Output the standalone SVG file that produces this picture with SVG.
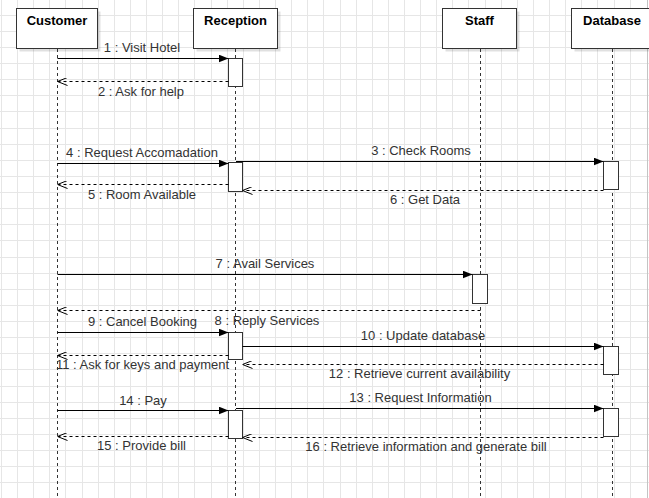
<svg xmlns="http://www.w3.org/2000/svg" width="649" height="498" viewBox="0 0 649 498">
<style>
.grid{stroke:#e6e6e6;stroke-width:1;fill:none}
.box{fill:#ffffff;stroke:#333333;stroke-width:1}
.shadow{fill:#000000;opacity:0.12}
.title{font-family:"Liberation Sans",Arial,sans-serif;font-size:13px;font-weight:bold;fill:#000000;text-anchor:middle}
.life{stroke:#333333;stroke-width:1;stroke-dasharray:3 3;fill:none}
.bar{fill:#ffffff;stroke:#333333;stroke-width:1}
.msg{stroke:#000000;stroke-width:1;fill:none}
.ret{stroke:#000000;stroke-width:1;fill:none;stroke-dasharray:3 3}
.lbl{font-family:"Liberation Sans",Arial,sans-serif;font-size:13px;fill:#333333;text-anchor:middle}
</style>
<defs>
<marker id="block" viewBox="0 0 10 8" refX="10" refY="4" markerWidth="10" markerHeight="8" markerUnits="userSpaceOnUse" orient="auto">
<path d="M0,0 L10,4 L0,8 Z" fill="#000000"/>
</marker>
<marker id="open" viewBox="0 0 10 8" refX="10" refY="4" markerWidth="10" markerHeight="8" markerUnits="userSpaceOnUse" orient="auto">
<path d="M0,0 L10,4 L0,8" fill="none" stroke="#000000" stroke-width="1"/>
</marker>
</defs>
<rect x="0" y="0" width="649" height="498" fill="#ffffff"/>
<path class="grid" d="M1.5,0V498M17.5,0V498M33.5,0V498M49.5,0V498M65.5,0V498M82.5,0V498M98.5,0V498M114.5,0V498M130.5,0V498M146.5,0V498M162.5,0V498M178.5,0V498M194.5,0V498M211.5,0V498M227.5,0V498M243.5,0V498M259.5,0V498M275.5,0V498M291.5,0V498M307.5,0V498M323.5,0V498M340.5,0V498M356.5,0V498M372.5,0V498M388.5,0V498M404.5,0V498M420.5,0V498M436.5,0V498M452.5,0V498M468.5,0V498M485.5,0V498M501.5,0V498M517.5,0V498M533.5,0V498M549.5,0V498M565.5,0V498M581.5,0V498M597.5,0V498M614.5,0V498M630.5,0V498M0,15.5H649M0,31.5H649M0,47.5H649M0,63.5H649M0,79.5H649M0,95.5H649M0,111.5H649M0,128.5H649M0,144.5H649M0,160.5H649M0,176.5H649M0,192.5H649M0,208.5H649M0,224.5H649M0,240.5H649M0,257.5H649M0,273.5H649M0,289.5H649M0,305.5H649M0,321.5H649M0,337.5H649M0,353.5H649M0,369.5H649M0,386.5H649M0,402.5H649M0,418.5H649M0,434.5H649M0,450.5H649M0,466.5H649M0,482.5H649"/>
<line x1="647.5" y1="0" x2="647.5" y2="498" stroke="#c4c4c4" stroke-width="1"/>

<g id="customer">
<rect class="shadow" x="19.5" y="11.5" width="81" height="40"/>
<rect class="box" x="16.5" y="8.5" width="81" height="40"/>
<text class="title" x="57" y="25">Customer</text>
<line class="life" x1="57.5" y1="49" x2="57.5" y2="498"/>
</g>
<g id="reception">
<rect class="shadow" x="196.5" y="11.5" width="84" height="40"/>
<rect class="box" x="193.5" y="8.5" width="84" height="40"/>
<text class="title" x="235.5" y="25">Reception</text>
<line class="life" x1="235.5" y1="49" x2="235.5" y2="498"/>
</g>
<g id="staff">
<rect class="shadow" x="445.5" y="11.5" width="74" height="40"/>
<rect class="box" x="442.5" y="8.5" width="74" height="40"/>
<text class="title" x="479.5" y="25">Staff</text>
<line class="life" x1="480.5" y1="49" x2="480.5" y2="498"/>
</g>
<g id="database">
<rect class="shadow" x="574.5" y="11.5" width="81" height="40"/>
<rect class="box" x="571.5" y="8.5" width="81" height="40"/>
<text class="title" x="612" y="25">Database</text>
<line class="life" x1="612.5" y1="49" x2="612.5" y2="498"/>
</g>

<g id="activations">
<rect class="bar" x="228.5" y="58.5" width="14" height="28"/>
<rect class="bar" x="228.5" y="162.5" width="14" height="29"/>
<rect class="bar" x="603.5" y="161.5" width="15" height="28"/>
<rect class="bar" x="472.5" y="274.5" width="15" height="29"/>
<rect class="bar" x="228.5" y="332.5" width="14" height="27"/>
<rect class="bar" x="603.5" y="346.5" width="15" height="28"/>
<rect class="bar" x="228.5" y="410.5" width="14" height="28"/>
<rect class="bar" x="603.5" y="408.5" width="15" height="28"/>
</g>

<g id="connectors">
<line class="msg" x1="57.5" y1="58.5" x2="228.5" y2="58.5" marker-end="url(#block)"/>
<line class="ret" x1="228.5" y1="81.5" x2="57.5" y2="81.5" marker-end="url(#open)"/>
<line class="msg" x1="57.5" y1="163.5" x2="228.5" y2="163.5" marker-end="url(#block)"/>
<line class="msg" x1="236" y1="161.5" x2="603.5" y2="161.5" marker-end="url(#block)"/>
<line class="ret" x1="228.5" y1="184.5" x2="57.5" y2="184.5" marker-end="url(#open)"/>
<line class="ret" x1="603.5" y1="190.5" x2="242.5" y2="190.5" marker-end="url(#open)"/>
<line class="msg" x1="57.5" y1="274.5" x2="472.5" y2="274.5" marker-end="url(#block)"/>
<line class="ret" x1="480.5" y1="310.5" x2="57.5" y2="310.5" marker-end="url(#open)"/>
<line class="msg" x1="57.5" y1="332.5" x2="228.5" y2="332.5" marker-end="url(#block)"/>
<line class="msg" x1="242.5" y1="346.5" x2="603.5" y2="346.5" marker-end="url(#block)"/>
<line class="ret" x1="228.5" y1="355.5" x2="57.5" y2="355.5" marker-end="url(#open)"/>
<line class="ret" x1="603.5" y1="364.5" x2="242.5" y2="364.5" marker-end="url(#open)"/>
<line class="msg" x1="57.5" y1="410.5" x2="228.5" y2="410.5" marker-end="url(#block)"/>
<line class="msg" x1="236" y1="408.5" x2="603.5" y2="408.5" marker-end="url(#block)"/>
<line class="ret" x1="228.5" y1="436.5" x2="57.5" y2="436.5" marker-end="url(#open)"/>
<line class="ret" x1="603.5" y1="437.5" x2="242.5" y2="437.5" marker-end="url(#open)"/>
</g>

<g id="labels">
<text class="lbl" x="142" y="52">1 : Visit Hotel</text>
<text class="lbl" x="141" y="96">2 : Ask for help</text>
<text class="lbl" x="421" y="155">3 : Check Rooms</text>
<text class="lbl" x="142" y="157">4 : Request Accomadation</text>
<text class="lbl" x="142" y="199">5 : Room Available</text>
<text class="lbl" x="425" y="204">6 : Get Data</text>
<text class="lbl" x="265" y="268">7 : Avail Services</text>
<text class="lbl" x="267" y="325">8 : Reply Services</text>
<text class="lbl" x="142.5" y="326">9 : Cancel Booking</text>
<text class="lbl" x="423" y="340">10 : Update database</text>
<text class="lbl" x="142.5" y="369">11 : Ask for keys and payment</text>
<text class="lbl" x="419.5" y="378">12 : Retrieve current availability</text>
<text class="lbl" x="420.5" y="402">13 : Request Information</text>
<text class="lbl" x="143" y="405">14 : Pay</text>
<text class="lbl" x="141.5" y="450">15 : Provide bill</text>
<text class="lbl" x="426" y="451">16 : Retrieve information and generate bill</text>
</g>
</svg>
